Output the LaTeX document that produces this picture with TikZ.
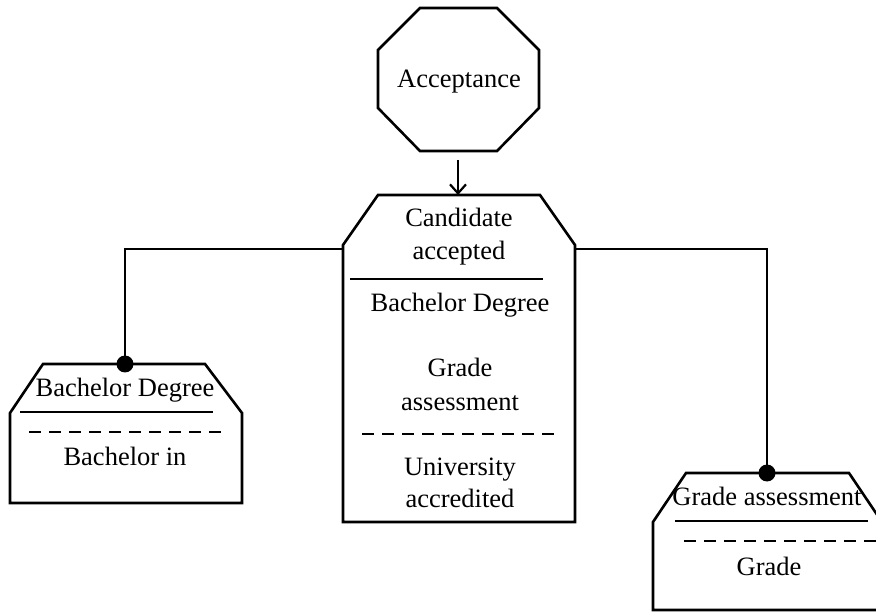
\documentclass[tikz,border=0pt]{standalone}
\usepackage{fontspec}
\setmainfont{Liberation Serif}
\usetikzlibrary{arrows.meta}
\begin{document}
\begin{tikzpicture}[x=1pt,y=-1pt,line width=2.6pt,
  lbl/.style={font=\fontsize{26.5}{32}\selectfont,inner sep=0pt,anchor=base},
  shp/.style={line width=2.6pt,line join=miter},
  dot/.style={fill=black,draw=none},
  conn/.style={line width=2.6pt}]
\useasboundingbox (0,0) rectangle (876,612);
% Acceptance octagon
\draw[shp] (420,8) -- (497,8) -- (539,50) -- (539,108) -- (497,151) -- (420,151) -- (378,108) -- (378,50) -- cycle;
\node[lbl] (acc) at (459,88) {Acceptance};
\coordinate (accb) at (458,160);
% Center box
\draw[shp] (378,195) -- (540,195) -- (575,245) -- (575,522) -- (343,522) -- (343,245) -- cycle;
\coordinate (ctop) at (458,195);
\coordinate (cl) at (343,249);
\coordinate (cr) at (575,249);
\node[lbl] (c1) at (459,227) {Candidate};
\node[lbl] (c2) at (459,260) {accepted};
\draw[conn] (350,279) -- (543,279);
\node[lbl] (c3) at (460,312) {Bachelor Degree};
\node[lbl] (c4) at (460,377) {Grade};
\node[lbl] (c5) at (460,410) {assessment};
\draw[conn,dash pattern=on 12pt off 8pt] (362,434) -- (555,434);
\node[lbl] (c6) at (460,475) {University};
\node[lbl] (c7) at (460,507) {accredited};
\draw[conn,-{Straight Barb[length=9pt,width=16pt,line width=2.2pt]}] (accb) -- (ctop);
% Left box
\draw[shp] (43,364) -- (205,364) -- (242,413) -- (242,503) -- (10,503) -- (10,413) -- cycle;
\coordinate (ltop) at (125,364);
\node[lbl] (l1) at (125,397) {Bachelor Degree};
\draw[conn] (20,412) -- (213,412);
\draw[conn,dash pattern=on 12pt off 8pt] (29,432) -- (222,432);
\node[lbl] (l2) at (125,465) {Bachelor in};
% Right box
\draw[shp] (686,473) -- (849,473) -- (882,522) -- (882,610) -- (653,610) -- (653,522) -- cycle;
\coordinate (rtop) at (767,473);
\node[lbl] (r1) at (767,505) {Grade assessment};
\draw[conn] (675,521) -- (868,521);
\draw[conn,dash pattern=on 12pt off 8pt] (684,541) -- (880,541);
\node[lbl] (r2) at (769,575) {Grade};
% Connectors
\draw[conn] (cl) -| (ltop);
\draw[conn] (cr) -| (rtop);
\fill[dot] (ltop) circle (8.5);
\fill[dot] (rtop) circle (8.5);
\end{tikzpicture}
\end{document}
